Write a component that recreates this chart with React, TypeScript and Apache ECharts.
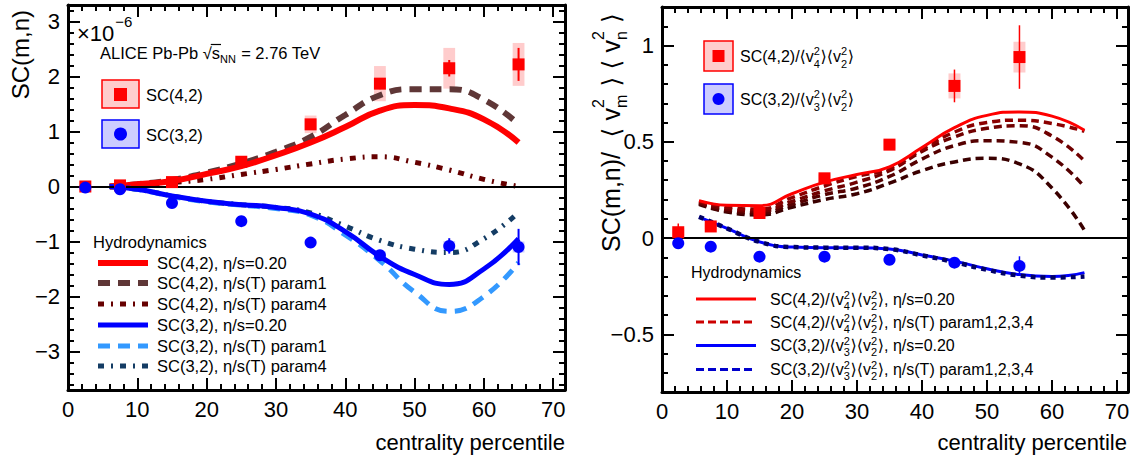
import React, { useEffect, useRef } from 'react';
import * as echarts from 'echarts';

const FONT = '"Liberation Sans", "DejaVu Sans", Arial, sans-serif';

// ---------------- Left panel: SC(m,n) in units of 1e-6 ----------------
const centrality = [2.5, 7.5, 15, 25, 35, 45, 55, 65];
const sc42 = [0.0, 0.02, 0.08, 0.45, 1.13, 1.87, 2.15, 2.22];
const sc42Stat = [0.02, 0.02, 0.03, 0.04, 0.06, 0.1, 0.15, 0.3];
const sc42Sys = [0.03, 0.03, 0.05, 0.08, 0.16, 0.32, 0.37, 0.39];
const sc32 = [-0.02, -0.05, -0.3, -0.63, -1.02, -1.25, -1.08, -1.1];
const sc32Stat = [0.02, 0.02, 0.03, 0.04, 0.05, 0.08, 0.14, 0.33];
const sc32Sys = [0.01, 0.01, 0.02, 0.03, 0.05, 0.07, 0.09, 0.1];

const hydroX = [6, 10, 15, 20, 25, 30, 35, 40, 45, 50, 55, 60, 65];
const sc42Eta020 = [0.0, 0.04, 0.1, 0.23, 0.37, 0.57, 0.8, 1.08, 1.38, 1.48, 1.42, 1.22, 0.8];
const sc42Param1 = [0.0, 0.04, 0.12, 0.25, 0.42, 0.63, 0.9, 1.3, 1.66, 1.77, 1.77, 1.58, 1.13];
const sc42Param4 = [0.0, 0.02, 0.07, 0.13, 0.22, 0.31, 0.41, 0.5, 0.54, 0.44, 0.3, 0.13, 0.0];
const sc32Eta020 = [0.0, -0.05, -0.17, -0.27, -0.33, -0.38, -0.5, -0.82, -1.27, -1.6, -1.78, -1.5, -0.95];
const sc32Param1 = [0.0, -0.05, -0.18, -0.28, -0.34, -0.4, -0.52, -0.88, -1.35, -1.92, -2.27, -2.0, -1.38];
const sc32Param4 = [0.0, -0.05, -0.17, -0.27, -0.33, -0.38, -0.48, -0.72, -0.98, -1.14, -1.2, -0.95, -0.47];

// ---------------- Right panel: normalized SC ----------------
const centralityR = [2.5, 7.5, 15, 25, 35, 45, 55];
const nsc42 = [0.03, 0.06, 0.13, 0.31, 0.485, 0.79, 0.94];
const nsc42Stat = [0.045, 0.02, 0.02, 0.02, 0.02, 0.085, 0.165];
const nsc42Sys = [0.02, 0.015, 0.02, 0.02, 0.025, 0.065, 0.08];
const nsc32 = [-0.027, -0.045, -0.097, -0.097, -0.113, -0.128, -0.145];
const nsc32Stat = [0.01, 0.01, 0.01, 0.01, 0.01, 0.02, 0.05];
const nsc32Sys = [0.01, 0.01, 0.01, 0.01, 0.01, 0.015, 0.02];

const hydroXR = [5.7, 10, 15, 20, 25, 30, 35, 40, 45, 50, 55, 60, 65];
const nsc42Eta020 = [0.194, 0.17, 0.168, 0.23, 0.29, 0.33, 0.37, 0.47, 0.573, 0.637, 0.655, 0.633, 0.56];
const nsc42Param1 = [0.19, 0.16, 0.15, 0.21, 0.27, 0.32, 0.36, 0.46, 0.55, 0.6, 0.612, 0.595, 0.555];
const nsc42Param2 = [0.185, 0.15, 0.14, 0.19, 0.245, 0.29, 0.35, 0.45, 0.525, 0.57, 0.583, 0.53, 0.4];
const nsc42Param3 = [0.18, 0.14, 0.13, 0.175, 0.225, 0.26, 0.32, 0.41, 0.48, 0.505, 0.497, 0.42, 0.265];
const nsc42Param4 = [0.175, 0.135, 0.12, 0.16, 0.2, 0.23, 0.285, 0.35, 0.395, 0.414, 0.385, 0.26, 0.04];
const nsc32Eta020 = [0.108, 0.05, -0.02, -0.047, -0.05, -0.05, -0.057, -0.088, -0.12, -0.16, -0.19, -0.2, -0.18];
const nsc32Params = [0.11, 0.05, -0.02, -0.047, -0.05, -0.05, -0.058, -0.09, -0.125, -0.165, -0.195, -0.205, -0.2];

// ---------------- Tick labels / texts ----------------
const xTickLabels = [0, 10, 20, 30, 40, 50, 60, 70];
const leftYTickLabels = [-3, -2, -1, 0, 1, 2, 3];
const rightYTickLabels = [-0.5, 0, 0.5, 1];
const leftLegendTexts = [
  'SC(4,2), \u03b7/s=0.20',
  'SC(4,2), \u03b7/s(T) param1',
  'SC(4,2), \u03b7/s(T) param4',
  'SC(3,2), \u03b7/s=0.20',
  'SC(3,2), \u03b7/s(T) param1',
  'SC(3,2), \u03b7/s(T) param4',
];
const rightLegendSuffix = [', \u03b7/s=0.20', ', \u03b7/s(T) param1,2,3,4', ', \u03b7/s=0.20', ', \u03b7/s(T) param1,2,3,4'];

const X_MAX = 71.7;

let _ctx: any = null;
function measure(text: string, size: number): number {
  if (!_ctx) _ctx = document.createElement('canvas').getContext('2d');
  _ctx.font = `${size}px ${FONT}`;
  return _ctx.measureText(text).width;
}

function txt(text: string, x: number, y: number, size: number, color = '#000', align = 'left') {
  return {
    type: 'text', x, y, silent: true, z: 10,
    style: {
      text, font: `${size}px ${FONT}`, fill: color,
      align, verticalAlign: 'middle', textAlign: align, textVerticalAlign: 'middle',
    },
  };
}

type Seg = string | { sup?: string; sub?: string } | { gap: number };
function rich(segs: Seg[], x0: number, y0: number, size: number, supOff: number, subOff: number, scale = 0.68) {
  const small = Math.round(size * scale);
  const els: any[] = [];
  let x = x0;
  for (const s of segs) {
    if (typeof s === 'string') {
      els.push(txt(s, x, y0, size));
      x += measure(s, size);
    } else if ('gap' in s) {
      x += s.gap;
    } else {
      let w = 0;
      if (s.sup) { els.push(txt(s.sup, x, y0 + supOff * size, small)); w = Math.max(w, measure(s.sup, small)); }
      if (s.sub) { els.push(txt(s.sub, x, y0 + subOff * size, small)); w = Math.max(w, measure(s.sub, small)); }
      x += w + size * 0.04;
    }
  }
  return { els, width: x - x0 };
}

function seg(x1: number, y1: number, x2: number, y2: number, stroke: string, lineWidth: number, dash?: number[]) {
  return { type: 'line', silent: true, z: 10, shape: { x1, y1, x2, y2 }, style: { stroke, lineWidth, lineDash: dash } };
}

const axisLine = { show: true, onZero: false, lineStyle: { color: '#000', width: 3 } };
const axisTick = { show: true, inside: true, length: 12, lineStyle: { color: '#000', width: 2 } };
const minorTick = { show: true, splitNumber: 5, length: 6, lineStyle: { color: '#000', width: 2 } };

function xAx(grid: number, pos: string, showLabel: boolean) {
  return {
    type: 'value', gridIndex: grid, position: pos, min: 0, max: X_MAX, interval: 10,
    axisLine, axisTick, minorTick, splitLine: { show: false },
    axisLabel: {
      show: showLabel, fontSize: 22, fontFamily: FONT, color: '#000', margin: 8,
      formatter: (v: number) => (xTickLabels.includes(v) ? String(v) : ''),
    },
  };
}

function fmtNum(v: number) {
  return v < 0 ? '\u2212' + String(Math.abs(v)) : String(v);
}

function yAx(grid: number, pos: string, showLabel: boolean, min: number, max: number, splitNumber: number, labels: number[], margin: number) {
  return {
    type: 'value', gridIndex: grid, position: pos, min, max, splitNumber,
    axisLine, axisTick, minorTick, splitLine: { show: false },
    axisLabel: {
      show: showLabel, fontSize: 22, fontFamily: FONT, color: '#000', margin,
      formatter: (v: number) => {
        const hit = labels.find((l) => Math.abs(l - v) < 1e-6);
        return hit === undefined ? '' : fmtNum(hit);
      },
    },
  };
}

function lineSeries(xi: number, yi: number, xs: number[], ys: number[], color: string, width: number, type: any, extra: any = {}) {
  return {
    type: 'line', xAxisIndex: xi, yAxisIndex: yi, data: xs.map((x, i) => [x, ys[i]]),
    smooth: 0.5, showSymbol: false, symbol: 'none', silent: true, z: 3,
    lineStyle: { color, width, type }, ...extra,
  };
}

function boxSeries(xi: number, yi: number, xs: number[], ys: number[], es: number[], hw: number, fill: string) {
  return {
    type: 'custom', xAxisIndex: xi, yAxisIndex: yi, z: 1, silent: true,
    encode: { x: 0, y: 1 },
    data: xs.map((x, i) => [x, ys[i], es[i]]),
    renderItem: (_p: any, api: any) => {
      const x = api.value(0), y = api.value(1), e = api.value(2);
      const p1 = api.coord([x - hw, y + e]);
      const p2 = api.coord([x + hw, y - e]);
      return { type: 'rect', shape: { x: p1[0], y: p1[1], width: p2[0] - p1[0], height: p2[1] - p1[1] }, style: { fill } };
    },
  };
}

function errSeries(xi: number, yi: number, xs: number[], ys: number[], es: number[], color: string, width: number) {
  return {
    type: 'custom', xAxisIndex: xi, yAxisIndex: yi, z: 5, silent: true,
    encode: { x: 0, y: 1 },
    data: xs.map((x, i) => [x, ys[i], es[i]]),
    renderItem: (_p: any, api: any) => {
      const x = api.value(0), y = api.value(1), e = api.value(2);
      const p1 = api.coord([x, y + e]);
      const p2 = api.coord([x, y - e]);
      return { type: 'line', shape: { x1: p1[0], y1: p1[1], x2: p2[0], y2: p2[1] }, style: { stroke: color, lineWidth: width } };
    },
  };
}

function markerSeries(xi: number, yi: number, xs: number[], ys: number[], symbol: string, color: string, size: number) {
  return {
    type: 'scatter', xAxisIndex: xi, yAxisIndex: yi, z: 6, silent: true,
    symbol, symbolSize: size, itemStyle: { color, opacity: 1 },
    data: xs.map((x, i) => [x, ys[i]]),
  };
}

const zeroLine = {
  markLine: {
    silent: true, symbol: 'none', label: { show: false }, animation: false,
    lineStyle: { color: '#000', width: 2, type: 'solid' },
    data: [{ yAxis: 0 }],
  },
};

function buildGraphics() {
  const els: any[] = [];
  const LF = 16.5;
  // ---- left panel ----
  const w10 = measure('\u00d710', 22);
  els.push(txt('\u00d710', 77, 33, 22));
  els.push(txt('\u22126', 77 + w10 + 1, 21, 15));

  const aliceSegs: Seg[] = ['ALICE Pb-Pb \u221a', 's', { sub: 'NN' }, ' = 2.76 TeV'];
  const alice = rich(aliceSegs, 100, 53, LF, -0.3, 0.35, 0.65);
  els.push(...alice.els);
  const sx = 100 + measure('ALICE Pb-Pb \u221a', LF);
  els.push(seg(sx - 1, 44.5, sx + measure('s', LF) + 1, 44.5, '#000', 1.2));

  // data legend boxes
  els.push({ type: 'rect', z: 10, shape: { x: 102, y: 80, width: 37, height: 28 }, style: { fill: '#ffcccc', stroke: '#ff0000', lineWidth: 1.5 } });
  els.push({ type: 'rect', z: 11, shape: { x: 114, y: 88, width: 13, height: 13 }, style: { fill: '#ff0000' } });
  els.push(txt('SC(4,2)', 146, 95, LF));
  els.push({ type: 'rect', z: 10, shape: { x: 102, y: 120, width: 37, height: 28 }, style: { fill: '#ccccff', stroke: '#0000ff', lineWidth: 1.5 } });
  els.push({ type: 'circle', z: 11, shape: { cx: 120.5, cy: 134, r: 6.5 }, style: { fill: '#0000ff' } });
  els.push(txt('SC(3,2)', 146, 135, LF));

  // hydro legend left
  els.push(txt('Hydrodynamics', 93, 242, LF));
  const rowsL = [263, 283, 304, 325, 346, 366];
  const stylesL: [string, number, number[] | undefined][] = [
    ['#ff0000', 6, undefined],
    ['#5f3737', 6, [12, 8]],
    ['#660000', 5, [6, 7, 2, 7]],
    ['#0000ff', 5, undefined],
    ['#3399ff', 5, [12, 8]],
    ['#143c64', 5, [6, 7, 2, 7]],
  ];
  rowsL.forEach((y, i) => {
    const [c, w, d] = stylesL[i];
    els.push(seg(98, y, 148, y, c, w, d));
    els.push(txt(leftLegendTexts[i], 157, y, LF));
  });

  // left y title
  const wL = measure('SC(m,n)', 24);
  els.push({ type: 'group', x: 20, y: 10 + wL, rotation: Math.PI / 2, children: [txt('SC(m,n)', 0, 0, 24)] });

  // x titles
  els.push(txt('centrality percentile', 565, 442, 22, '#000', 'right'));
  els.push(txt('centrality percentile', 1127, 442, 22, '#000', 'right'));

  // ---- right panel ----
  const TS = 25;
  const baseSegs = (g: number): Seg[] => [
    'SC(m,n)/', { gap: g }, '\u27e8', { gap: g * 0.5 }, 'v', { sup: '2', sub: 'm' }, { gap: g * 0.5 }, '\u27e9', { gap: g * 0.5 },
    '\u27e8', { gap: g * 0.5 }, 'v', { sup: '2', sub: 'n' }, { gap: g * 0.5 }, '\u27e9',
  ];
  const natural = rich(baseSegs(0), 0, 0, TS, -0.5, 0.42, 0.65).width;
  const target = 246;
  const gap = Math.max(0, (target - natural) / 4);
  const title = rich(baseSegs(gap), 0, 0, TS, -0.5, 0.42, 0.65);
  els.push({ type: 'group', x: 611, y: 252, rotation: Math.PI / 2, children: title.els });

  // data legend right
  els.push({ type: 'rect', z: 10, shape: { x: 704, y: 41, width: 29, height: 30 }, style: { fill: '#ffcccc', stroke: '#ff0000', lineWidth: 1.5 } });
  els.push({ type: 'rect', z: 11, shape: { x: 712.5, y: 50, width: 12, height: 12 }, style: { fill: '#ff0000' } });
  els.push(...rich(['SC(4,2)/\u27e8v', { sup: '2', sub: '4' }, '\u27e9\u27e8v', { sup: '2', sub: '2' }, '\u27e9'], 740, 56, 16, -0.3, 0.5).els);
  els.push({ type: 'rect', z: 10, shape: { x: 704, y: 84, width: 29, height: 30 }, style: { fill: '#ccccff', stroke: '#0000ff', lineWidth: 1.5 } });
  els.push({ type: 'circle', z: 11, shape: { cx: 718.5, cy: 99, r: 6 }, style: { fill: '#0000ff' } });
  els.push(...rich(['SC(3,2)/\u27e8v', { sup: '2', sub: '3' }, '\u27e9\u27e8v', { sup: '2', sub: '2' }, '\u27e9'], 740, 99, 16, -0.3, 0.5).els);

  // hydro legend right
  els.push(txt('Hydrodynamics', 691, 272, 16));
  const rowsR = [299, 322, 345.5, 369.5];
  const stylesR: [string, number, number[] | undefined, string][] = [
    ['#ff0000', 3, undefined, '4'],
    ['#cc0000', 3, [8, 4], '4'],
    ['#0000ff', 3, undefined, '3'],
    ['#0000cc', 3, [8, 4], '3'],
  ];
  rowsR.forEach((y, i) => {
    const [c, w, d, m] = stylesR[i];
    els.push(seg(696, y, 756, y, c, w, d));
    const name = m === '4' ? 'SC(4,2)/\u27e8v' : 'SC(3,2)/\u27e8v';
    els.push(...rich([name, { sup: '2', sub: m }, '\u27e9\u27e8v', { sup: '2', sub: '2' }, '\u27e9' + rightLegendSuffix[i]], 770, y, 16, -0.28, 0.42).els);
  });
  return els;
}

function buildOption(): any {
  const series: any[] = [
    // left panel
    boxSeries(0, 0, centrality, sc42, sc42Sys, 0.85, '#ffcccc'),
    boxSeries(0, 0, centrality, sc32, sc32Sys, 0.85, '#ccccff'),
    lineSeries(0, 0, hydroX, sc42Param4, '#660000', 5, [6, 7, 2, 7]),
    lineSeries(0, 0, hydroX, sc42Param1, '#5f3737', 6, [12, 8]),
    lineSeries(0, 0, hydroX, sc42Eta020, '#ff0000', 6, 'solid', zeroLine),
    lineSeries(0, 0, hydroX, sc32Param4, '#143c64', 5, [6, 7, 2, 7]),
    lineSeries(0, 0, hydroX, sc32Param1, '#3399ff', 5, [12, 8]),
    lineSeries(0, 0, hydroX, sc32Eta020, '#0000ff', 5, 'solid'),
    errSeries(0, 0, centrality, sc42, sc42Stat, '#ff0000', 2),
    errSeries(0, 0, centrality, sc32, sc32Stat, '#0000ff', 2),
    markerSeries(0, 0, centrality, sc42, 'rect', '#ff0000', 12),
    markerSeries(0, 0, centrality, sc32, 'circle', '#0000ff', 12),
    // right panel
    boxSeries(2, 2, centralityR, nsc42, nsc42Sys, 0.92, '#ffcccc'),
    boxSeries(2, 2, centralityR, nsc32, nsc32Sys, 0.92, '#ccccff'),
    lineSeries(2, 2, hydroXR, nsc42Param4, '#3a0000', 3.5, [8, 5]),
    lineSeries(2, 2, hydroXR, nsc42Param3, '#550000', 3.5, [8, 5]),
    lineSeries(2, 2, hydroXR, nsc42Param2, '#700000', 3.5, [8, 5]),
    lineSeries(2, 2, hydroXR, nsc42Param1, '#8b0000', 3.5, [8, 5]),
    lineSeries(2, 2, hydroXR, nsc42Eta020, '#ff0000', 3, 'solid', zeroLine),
    lineSeries(2, 2, hydroXR, nsc32Eta020, '#0000ff', 3, 'solid'),
    lineSeries(2, 2, hydroXR, nsc32Params, '#000066', 4.5, [5, 5]),
    errSeries(2, 2, centralityR, nsc42, nsc42Stat, '#ff0000', 1.5),
    errSeries(2, 2, centralityR, nsc32, nsc32Stat, '#0000ff', 1.5),
    markerSeries(2, 2, centralityR, nsc42, 'rect', '#ff0000', 12),
    markerSeries(2, 2, centralityR, nsc32, 'circle', '#0000ff', 12),
  ];

  return {
    animation: false,
    backgroundColor: '#ffffff',
    grid: [
      { left: 68, top: 5, width: 497, height: 385 },
      { left: 662, top: 7, width: 466, height: 385 },
    ],
    xAxis: [xAx(0, 'bottom', true), xAx(0, 'top', false), xAx(1, 'bottom', true), xAx(1, 'top', false)],
    yAxis: [
      yAx(0, 'left', true, -3.7, 3.3, 7, leftYTickLabels, 8),
      yAx(0, 'right', false, -3.7, 3.3, 7, leftYTickLabels, 8),
      yAx(1, 'left', true, -0.8, 1.2, 4, rightYTickLabels, 8),
      yAx(1, 'right', false, -0.8, 1.2, 4, rightYTickLabels, 8),
    ],
    series,
    graphic: { elements: buildGraphics() },
  };
}

export default function App() {
  const ref = useRef<HTMLDivElement>(null);
  useEffect(() => {
    const chart = echarts.init(ref.current!, null, { renderer: 'svg' });
    chart.setOption(buildOption());
    return () => chart.dispose();
  }, []);
  return <div ref={ref} style={{ position: 'absolute', left: 0, top: 0, width: 1134, height: 460, background: '#fff' }} />;
}
